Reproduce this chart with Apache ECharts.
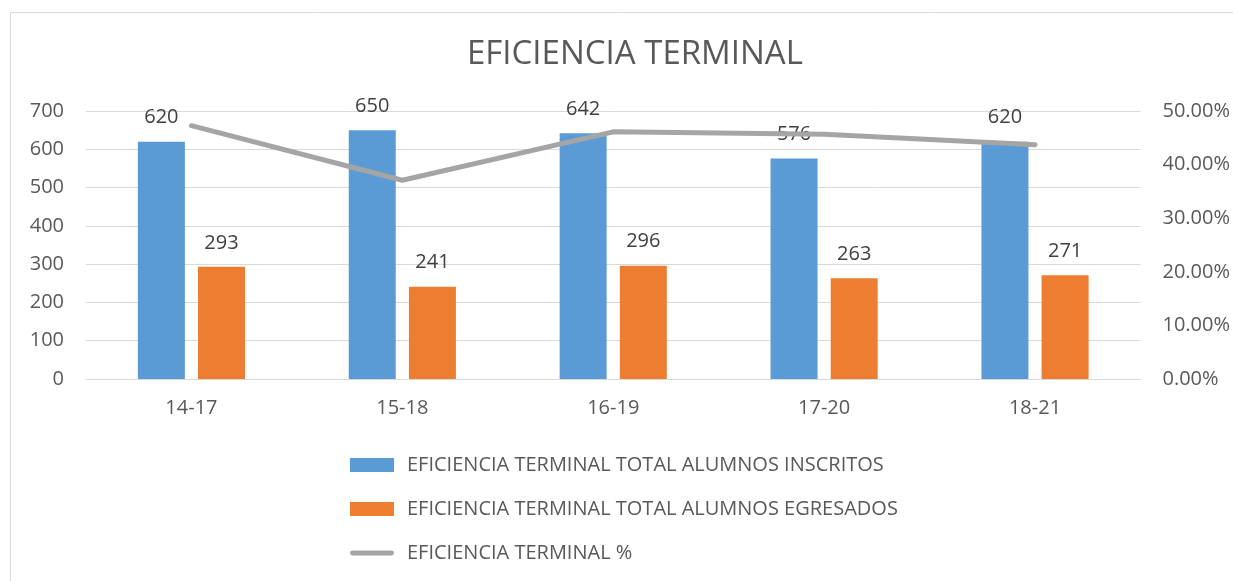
<!DOCTYPE html>
<html>
<head>
<meta charset="utf-8">
<script src="https://cdn.jsdelivr.net/npm/echarts@6/dist/echarts.min.js"></script>
<style>
  html, body { margin: 0; padding: 0; background: #fff; }
  #chart { width: 1233px; height: 581px; }
</style>
</head>
<body>
<div id="chart"></div>
<script>
// categorias (generaciones)
var categories = ["14-17", "15-18", "16-19", "17-20", "18-21"];
// alumnos inscritos
var inscritos = [620, 650, 642, 576, 620];
// alumnos egresados
var egresados = [293, 241, 296, 263, 271];
// eficiencia terminal en %
var eficiencia = [47.26, 37.08, 46.11, 45.66, 43.71];

var seriesNames = [
  "EFICIENCIA TERMINAL TOTAL ALUMNOS INSCRITOS",
  "EFICIENCIA TERMINAL TOTAL ALUMNOS EGRESADOS",
  "EFICIENCIA TERMINAL %"
];

var font = "Open Sans";
var myChart = echarts.init(document.getElementById("chart"));

var option = {
  backgroundColor: "#fff",
  animation: false,
  textStyle: { fontFamily: font },
  title: {
    text: "EFICIENCIA TERMINAL",
    left: 462,
    top: 33,
    textStyle: { color: "#595959", fontSize: 33, fontWeight: "normal", fontFamily: font }
  },
  graphic: [
    {
      // borde del area del grafico
      type: "rect",
      shape: { x: 10.5, y: 12.5, width: 1240, height: 600 },
      style: { fill: "none", stroke: "#d9d9d9", lineWidth: 1 },
      silent: true
    }
  ],
  legend: {
    orient: "vertical",
    left: 345,
    top: 450,
    itemGap: 24,
    itemWidth: 44,
    itemHeight: 14,
    textStyle: { color: "#595959", fontSize: 20, fontFamily: font, padding: [0, 0, 0, 8] },
    data: [
      { name: seriesNames[0], icon: "rect" },
      { name: seriesNames[1], icon: "rect" },
      { name: seriesNames[2], icon: "path://M2,0 H42 A2,2 0 0 1 42,5 H2 A2,2 0 0 1 2,0 Z" }
    ]
  },
  grid: { left: 86, right: 90, top: 111, bottom: 202 },
  xAxis: {
    type: "category",
    data: categories,
    axisLine: { lineStyle: { color: "#d9d9d9" } },
    axisTick: { show: false },
    axisLabel: { color: "#595959", fontSize: 20, margin: 19 }
  },
  yAxis: [
    {
      type: "value",
      min: 0,
      max: 700,
      interval: 100,
      axisLine: { show: false },
      axisTick: { show: false },
      axisLabel: { color: "#595959", fontSize: 20, margin: 22 },
      splitLine: { lineStyle: { color: "#d9d9d9" } }
    },
    {
      type: "value",
      min: 0,
      max: 50,
      interval: 10,
      axisLine: { show: false },
      axisTick: { show: false },
      axisLabel: {
        color: "#595959",
        fontSize: 20,
        margin: 22,
        formatter: function (v) { return v.toFixed(2) + "%"; }
      },
      splitLine: { show: false }
    }
  ],
  series: [
    {
      name: seriesNames[0],
      type: "bar",
      data: inscritos,
      barWidth: 47,
      barGap: "28%",
      itemStyle: { color: "#5b9bd5" },
      label: { show: true, position: "top", distance: 14, color: "#404040", fontSize: 20 }
    },
    {
      name: seriesNames[1],
      type: "bar",
      data: egresados,
      barWidth: 47,
      itemStyle: { color: "#ed7d31" },
      label: { show: true, position: "top", distance: 14, color: "#404040", fontSize: 20 }
    },
    {
      name: seriesNames[2],
      type: "line",
      yAxisIndex: 1,
      data: eficiencia,
      symbol: "none",
      lineStyle: { color: "#a5a5a5", width: 5, cap: "round" },
      itemStyle: { color: "#a5a5a5" }
    }
  ]
};

myChart.setOption(option);
</script>
</body>
</html>
